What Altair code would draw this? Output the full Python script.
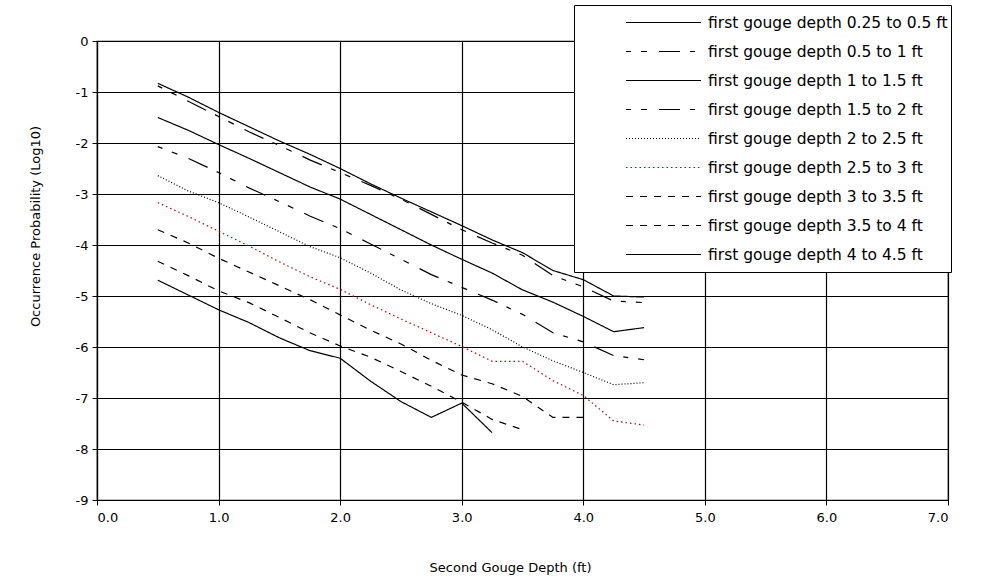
import altair as alt
import pandas as pd

# second gouge depth (ft) at which each curve is evaluated
second_depth = [0.5, 0.75, 1.0, 1.25, 1.5, 1.75, 2.0, 2.25, 2.5, 2.75,
                3.0, 3.25, 3.5, 3.75, 4.0, 4.25, 4.5]

series_names = [
    "first gouge depth 0.25 to 0.5 ft",
    "first gouge depth 0.5 to 1 ft",
    "first gouge depth 1 to 1.5 ft",
    "first gouge depth 1.5 to 2 ft",
    "first gouge depth 2 to 2.5 ft",
    "first gouge depth 2.5 to 3 ft",
    "first gouge depth 3 to 3.5 ft",
    "first gouge depth 3.5 to 4 ft",
    "first gouge depth 4 to 4.5 ft",
]

# log10 occurrence probability, one list per first-gouge depth class
prob_025_05 = [-0.83, -1.10, -1.40, -1.68, -1.96, -2.22, -2.50, -2.80, -3.08,
               -3.35, -3.62, -3.90, -4.15, -4.50, -4.68, -5.00, -5.02]
prob_05_1 = [-0.88, -1.18, -1.48, -1.78, -2.05, -2.33, -2.58, -2.83, -3.10,
             -3.40, -3.70, -3.96, -4.20, -4.60, -4.82, -5.10, -5.13]
prob_1_15 = [-1.50, -1.75, -2.03, -2.30, -2.58, -2.86, -3.10, -3.40, -3.70,
             -4.00, -4.28, -4.55, -4.88, -5.12, -5.40, -5.70, -5.62]
prob_15_2 = [-2.07, -2.30, -2.58, -2.88, -3.15, -3.43, -3.68, -3.98, -4.28,
             -4.58, -4.83, -5.08, -5.36, -5.72, -5.90, -6.17, -6.25]
prob_2_25 = [-2.64, -2.94, -3.17, -3.45, -3.74, -4.03, -4.25, -4.55, -4.88,
             -5.15, -5.38, -5.66, -6.00, -6.27, -6.50, -6.74, -6.70]
prob_25_3 = [-3.17, -3.44, -3.73, -4.02, -4.33, -4.62, -4.87, -5.17, -5.45,
             -5.72, -5.99, -6.28, -6.28, -6.66, -6.95, -7.45, -7.53]
prob_3_35 = [-3.70, -3.96, -4.26, -4.53, -4.80, -5.07, -5.37, -5.67, -5.94,
             -6.26, -6.55, -6.72, -6.97, -7.38, -7.38]
prob_35_4 = [-4.32, -4.60, -4.90, -5.13, -5.42, -5.72, -5.98, -6.20, -6.48,
             -6.77, -7.08, -7.42, -7.62]
prob_4_45 = [-4.69, -4.98, -5.27, -5.52, -5.82, -6.07, -6.22, -6.67, -7.07,
             -7.38, -7.10, -7.68]

all_probs = [prob_025_05, prob_05_1, prob_1_15, prob_15_2, prob_2_25,
             prob_25_3, prob_3_35, prob_35_4, prob_4_45]

series_colors = ["#000000", "#000000", "#000000", "#000000", "#000000",
                 "#c00000", "#000000", "#000000", "#000000"]
series_dashes = [[1, 0], [5, 10, 6, 12, 21, 10], [1, 0], [5, 10, 6, 12, 21, 10],
                 [1, 2], [1.5, 3], [7, 7], [7, 7], [1, 0]]

rows = []
for name, probs in zip(series_names, all_probs):
    for x, p in zip(second_depth, probs):
        rows.append({"series": name, "depth": x, "logp": p})
df = pd.DataFrame(rows)

FONT = "DejaVu Sans"

legend = alt.Legend(
    title=None,
    orient="none",
    legendX=477,
    legendY=-36,
    direction="vertical",
    symbolType="stroke",
    symbolSize=5625,
    symbolStrokeWidth=1.2,
    clipHeight=29,
    rowPadding=0,
    labelFont=FONT,
    labelFontSize=15.5,
    labelColor="#000000",
    labelOffset=6,
    fillColor="#ffffff",
    strokeColor="#000000",
    padding=3,
    symbolOffset=48,
    labelLimit=600,
)

chart = alt.Chart(df).mark_line(strokeWidth=1.2, clip=False).encode(
    x=alt.X("depth:Q",
            scale=alt.Scale(domain=[0, 7], nice=False, zero=False),
            axis=alt.Axis(title="Second Gouge Depth (ft)",
                          values=[0, 1, 2, 3, 4, 5, 6, 7], format=".1f",
                          titleX=413, titleY=67, titleAlign="center",
                          titleBaseline="middle")),
    y=alt.Y("logp:Q",
            scale=alt.Scale(domain=[-9, 0], nice=False, zero=False),
            axis=alt.Axis(title="Occurrence Probability (Log10)",
                          values=list(range(-9, 1)),
                          labelExpr="toString(datum.value)",
                          titleX=-62, titleY=185, titleAngle=270,
                          titleAlign="center", titleBaseline="middle")),
    color=alt.Color("series:N",
                    scale=alt.Scale(domain=series_names, range=series_colors),
                    sort=series_names, legend=legend),
    strokeDash=alt.StrokeDash("series:N",
                              scale=alt.Scale(domain=series_names, range=series_dashes),
                              sort=series_names, legend=legend),
).properties(
    width=851,
    height=459,
    autosize=alt.AutoSizeParams(type="none"),
    padding={"left": 97, "top": 41, "right": 37, "bottom": 81},
).configure_view(
    stroke="#000000", strokeWidth=1.2
).configure_axis(
    grid=True,
    gridColor="#000000",
    gridOpacity=1,
    gridWidth=1.2,
    domainColor="#000000",
    domainWidth=1.2,
    tickColor="#000000",
    tickSize=5,
    labelFont=FONT,
    labelFontSize=13,
    labelColor="#000000",
    titleFont=FONT,
    titleFontSize=13,
    titleFontWeight="normal",
    titleColor="#000000",
).configure_axisX(
    labelPadding=6,
).configure_axisY(
    labelPadding=4,
)

chart.save("out.html", embed_options={"renderer": "svg", "actions": False})
